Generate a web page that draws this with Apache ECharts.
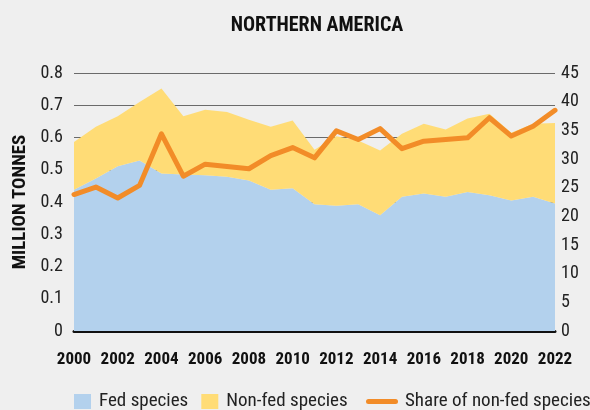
<!DOCTYPE html>
<html>
<head>
<meta charset="utf-8">
<script src="https://cdn.jsdelivr.net/npm/echarts@6/dist/echarts.min.js"></script>
<style>
  html, body { margin: 0; padding: 0; background: #efefef; }
  #chart { width: 590px; height: 410px; }
</style>
</head>
<body>
<div id="chart"></div>
<script>
// years on the x axis
var years = ['2000', '2001', '2002', '2003', '2004', '2005', '2006', '2007', '2008', '2009', '2010', '2011',
  '2012', '2013', '2014', '2015', '2016', '2017', '2018', '2019', '2020', '2021', '2022']
// million tonnes
var fedSpecies = [0.438, 0.473, 0.511, 0.529, 0.488, 0.485, 0.483, 0.478, 0.467, 0.438, 0.443, 0.393,
  0.388, 0.393, 0.359, 0.416, 0.426, 0.416, 0.431, 0.421, 0.405, 0.416, 0.395]
var nonFedSpecies = [0.148, 0.160, 0.155, 0.181, 0.264, 0.181, 0.203, 0.201, 0.188, 0.195, 0.210, 0.169,
  0.216, 0.198, 0.201, 0.196, 0.217, 0.209, 0.228, 0.253, 0.210, 0.227, 0.250]
// percent, right axis
var shareNonFed = [23.8, 25.1, 23.2, 25.4, 34.4, 27.0, 29.1, 28.7, 28.3, 30.6, 32.0, 30.2,
  34.9, 33.4, 35.3, 31.8, 33.1, 33.4, 33.7, 37.2, 34.0, 35.7, 38.5]

// Roboto is variable, 'condensed' in the font string narrows it
var font = 'Roboto, "DejaVu Sans Condensed", sans-serif'
var cond = 'condensed'

var chart = echarts.init(document.getElementById('chart'))
var option = {
  backgroundColor: '#efefef',
  animation: false,
  title: {
    text: 'NORTHERN AMERICA',
    left: 312,
    textAlign: 'center',
    top: 11,
    textStyle: { fontFamily: font, fontStyle: cond, fontWeight: 'bold', fontSize: 20, color: '#111' }
  },
  legend: [
    {
      data: ['Fed species', 'Non-fed species'],
      left: 74,
      top: 392,
      padding: 0,
      itemWidth: 17,
      itemHeight: 15,
      itemGap: 13,
      icon: 'rect',
      textStyle: { fontFamily: font, fontStyle: cond, fontSize: 19, color: '#222', padding: [0, 0, 0, 3] }
    },
    {
      data: [{
        name: 'Share of non-fed species',
        icon: 'path://M2.5,0 L29.5,0 A2.5,2.5 0 0 1 29.5,5 L2.5,5 A2.5,2.5 0 0 1 2.5,0 Z'
      }],
      left: 366,
      top: 392,
      padding: 0,
      itemWidth: 32,
      itemHeight: 15,
      textStyle: { fontFamily: font, fontStyle: cond, fontSize: 19, color: '#222', padding: [0, 0, 0, 2] }
    }
  ],
  grid: { left: 74, right: 35, top: 73, bottom: 79 },
  xAxis: {
    type: 'category',
    data: years,
    boundaryGap: false,
    axisLine: { lineStyle: { color: '#111', width: 3 } },
    axisTick: { show: false },
    axisLabel: {
      interval: 1,
      margin: 20,
      fontFamily: font,
      fontStyle: cond,
      fontWeight: 'bold',
      fontSize: 17,
      color: '#111'
    }
  },
  yAxis: [
    {
      type: 'value',
      min: 0,
      max: 0.8,
      interval: 0.1,
      name: 'MILLION TONNES',
      nameLocation: 'middle',
      nameGap: 39,
      nameTextStyle: { fontFamily: font, fontStyle: cond, fontWeight: 'bold', fontSize: 19, color: '#111' },
      axisLine: { show: false },
      axisTick: { show: false },
      splitLine: { lineStyle: { color: '#6a6a6a', width: 1 } },
      axisLabel: { margin: 11, fontFamily: font, fontStyle: cond, fontSize: 18, color: '#222' }
    },
    {
      type: 'value',
      min: 0,
      max: 45,
      interval: 5,
      position: 'right',
      axisLine: { show: false },
      axisTick: { show: false },
      splitLine: { show: false },
      axisLabel: { margin: 6, fontFamily: font, fontStyle: cond, fontSize: 18, color: '#222' }
    }
  ],
  series: [
    {
      name: 'Fed species',
      type: 'line',
      stack: 'total',
      data: fedSpecies,
      symbol: 'none',
      lineStyle: { width: 0 },
      itemStyle: { color: '#b3d1ed' },
      areaStyle: { color: '#b3d1ed', opacity: 1 }
    },
    {
      name: 'Non-fed species',
      type: 'line',
      stack: 'total',
      data: nonFedSpecies,
      symbol: 'none',
      lineStyle: { width: 0 },
      itemStyle: { color: '#ffdc76' },
      areaStyle: { color: '#ffdc76', opacity: 1 }
    },
    {
      name: 'Share of non-fed species',
      type: 'line',
      yAxisIndex: 1,
      data: shareNonFed,
      symbol: 'none',
      itemStyle: { color: '#f28c28' },
      lineStyle: { color: '#f28c28', width: 5, cap: 'round', join: 'round' },
      z: 5
    }
  ]
}
chart.setOption(option)
</script>
</body>
</html>
